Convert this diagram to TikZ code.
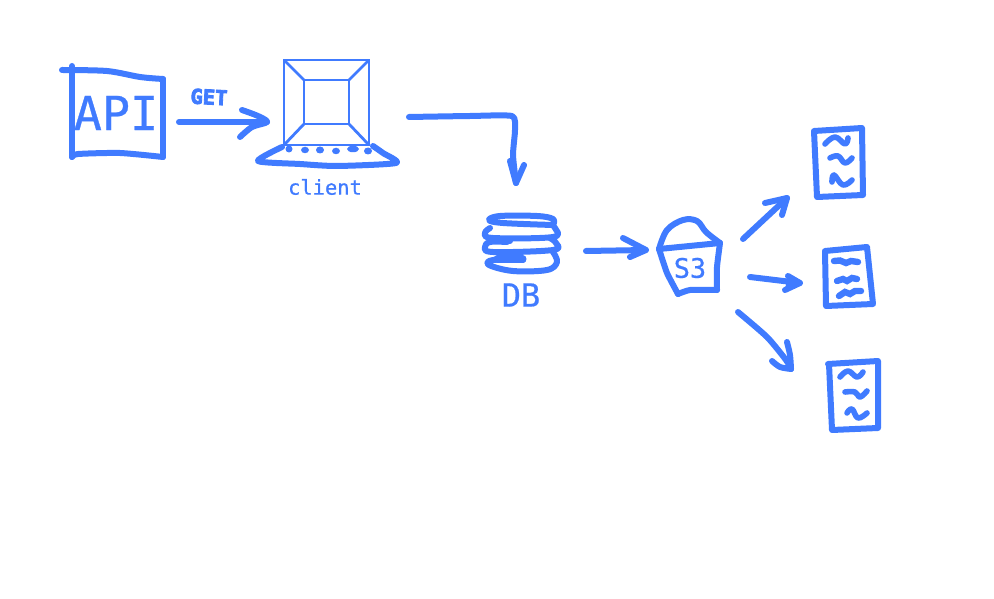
\documentclass[tikz,border=0pt]{standalone}
\usepackage{fontspec}
\setmonofont{DejaVu Sans Mono}
\newfontfamily\softmono[FakeBold=0.6]{DejaVu Sans Mono}
\newfontfamily\heavymono[FakeBold=4]{DejaVu Sans Mono Bold}
\definecolor{ink}{RGB}{64,123,255}
\tikzset{
  x=1bp,y=-1bp,
  pen/.style={draw=ink,line width=6bp,line cap=round,line join=round},
  fine/.style={draw=ink,line width=2.8bp,line join=miter},
  squig/.style={draw=ink,line width=5.6bp,line cap=round,line join=round},
  label/.style={text=ink,inner sep=0pt},
  keydot/.style={fill=ink,draw=none,ellipse,inner sep=0pt},
}
\usetikzlibrary{shapes.geometric}
\newcommand{\squigline}[1]{\draw[squig] plot[smooth,tension=0.7] coordinates {#1};}
\begin{document}
\begin{tikzpicture}
\useasboundingbox (0,0) rectangle (994,599);
% API box
\draw[pen] plot[smooth,tension=0.5] coordinates {(62,70)(107,71)(140,77)(163,79)};
\draw[pen] (163,79) -- (163,157);
\draw[pen] plot[smooth,tension=0.4] coordinates {(163,157)(120,153)(78,154)(72,157)};
\draw[pen] (72,157) -- (72,66);
\node[label,font=\softmono\fontsize{47}{47}\selectfont] (api) at (116,113) {API};
% GET
\node[label,font=\heavymono\fontsize{20.5}{20.5}\selectfont,rotate=-3] (get) at (209,97) {GET};
% client
\draw[fine] (284,60) rectangle (369,145);
\draw[fine] (304,80) rectangle (349,124);
\draw[fine] (284,60) -- (304,80) (369,60) -- (349,80) (284,145) -- (304,124) (369,145) -- (349,124);
\draw[pen] plot[smooth,tension=0.4] coordinates {(282,147)(258,161)(300,164)(337,166)(396,163)(383,153)(373,146)};
\node[keydot,minimum width=7bp,minimum height=7bp] (k1) at (289,149) {};
\node[keydot,minimum width=8bp,minimum height=6.5bp] (k2) at (305,150) {};
\node[keydot,minimum width=8bp,minimum height=7bp] (k3) at (320,150) {};
\node[keydot,minimum width=8bp,minimum height=6.5bp] (k4) at (336,151) {};
\node[keydot,minimum width=12bp,minimum height=6.5bp] (k5) at (353,149) {};
\node[keydot,minimum width=8bp,minimum height=7bp] (k6) at (368,151) {};
\node[label,font=\softmono\fontsize{20.5}{20.5}\selectfont] (client) at (325,187) {client};
% connectors
\coordinate (apiOut) at (179,122);
\coordinate (clientIn) at (267,122);
\draw[pen] (apiOut) -- (clientIn);
\draw[pen] plot[smooth,tension=0.5] coordinates {(242,110)(258,116)(clientIn)(252,127)(240,137)};
\coordinate (clientOut) at (409,117);
\coordinate (dbIn) at (516,183);
\draw[pen] plot[smooth,tension=0.35] coordinates {(clientOut)(470,116)(512,116)(515,130)(513,155)(dbIn)};
\draw[pen] (510,161) -- (dbIn) -- (524,165);
% DB
\draw[pen] plot[smooth,tension=0.6] coordinates {(553,225)(503,223)(489,220)(500,216)(537,216)(553,219)(553,225)};
\draw[pen] plot[smooth,tension=0.6] coordinates {(490,228)(485,233)(493,238)(553,237)(555,228)(552,225)};
\draw[pen] plot[smooth,tension=0.6] coordinates {(507,242)(490,242)(485,247)(493,252)(553,250)(556,243)(550,238)};
\draw[pen] plot[smooth,tension=0.6] coordinates {(523,260)(493,260)(489,265)(513,271)(547,270)(557,262)(553,252)};
\draw[draw=ink,line width=7bp,line cap=round] (497,259) -- (523,259);
\draw[draw=ink,line width=6bp,line cap=round] (490,241) -- (510,241);
\node[label,font=\softmono\fontsize{32}{32}\selectfont] (db) at (521,295) {DB};
% DB to S3
\coordinate (dbOut) at (586,251);
\coordinate (s3In) at (646,250);
\draw[pen] (dbOut) -- (s3In);
\draw[pen] (623,238) -- (s3In) -- (630,257);
% S3
\draw[pen] (659,249) -- (720,243);
\draw[pen] plot[smooth,tension=0.6] coordinates {(659,249)(667,230)(683,220)(697,221)(706,232)(720,243)};
\draw[pen] plot[smooth,tension=0.3] coordinates {(720,243)(717,267)(717,290)};
\draw[pen] plot[smooth,tension=0.3] coordinates {(717,290)(690,290)(678,294)};
\draw[pen] plot[smooth,tension=0.3] coordinates {(678,294)(667,273)(659,249)};
\node[label,font=\softmono\fontsize{27}{27}\selectfont] (s3) at (690,268) {S3};
% S3 fan-out
\coordinate (s3a) at (743,239);
\coordinate (doc1In) at (787,198);
\draw[pen] (s3a) -- (doc1In);
\draw[pen] (765,203) -- (doc1In) -- (782,215);
\coordinate (s3b) at (750,277);
\coordinate (doc2In) at (800,283);
\draw[pen] (s3b) -- (doc2In);
\draw[pen] (788,276) -- (doc2In) -- (785,290);
\fill[ink] (788,276) -- (801,283) -- (785,289) -- cycle;
\coordinate (s3c) at (738,312);
\coordinate (doc3In) at (791,369);
\draw[pen] plot[smooth,tension=0.4] coordinates {(s3c)(767,337)(786,360)(doc3In)};
\draw[pen] plot[smooth,tension=0.5] coordinates {(787,342)(790,355)(doc3In)};
\draw[pen] plot[smooth,tension=0.5] coordinates {(772,361)(780,367)(doc3In)};
% doc 1
\draw[pen] (814,131) -- (862,128) -- (863,195) -- (817,197) -- cycle;
\squigline{(825,144)(835,137)(845,144)(848,138)}
\squigline{(830,158)(838,156)(845,163)(852,158)}
\squigline{(832,182)(834,175)(843,185)(852,180)}
% doc 2
\draw[pen] (825,251) -- (867,247) -- (873,304) -- (826,306) -- cycle;
\draw[draw=ink,line width=6.4bp,line cap=round] (834,261) -- (840,260.5) -- (846,263) -- (851,261) -- (858,262);
\draw[draw=ink,line width=6.4bp,line cap=round] (837,281) -- (843,279) -- (847,281) -- (852,278) -- (857,279);
\draw[draw=ink,line width=6.4bp,line cap=round] (839,296) -- (845,292) -- (850,294) -- (855,291) -- (861,291);
% doc 3
\draw[pen] (828,364) -- (878,361) -- (878,428) -- (832,430) -- (829,364);
\squigline{(840,377)(848,371)(857,377)(863,372)}
\squigline{(845,392)(855,392)(860,397)(867,391)}
\squigline{(847,413)(852,409)(858,418)(867,413)}
\end{tikzpicture}
\end{document}
